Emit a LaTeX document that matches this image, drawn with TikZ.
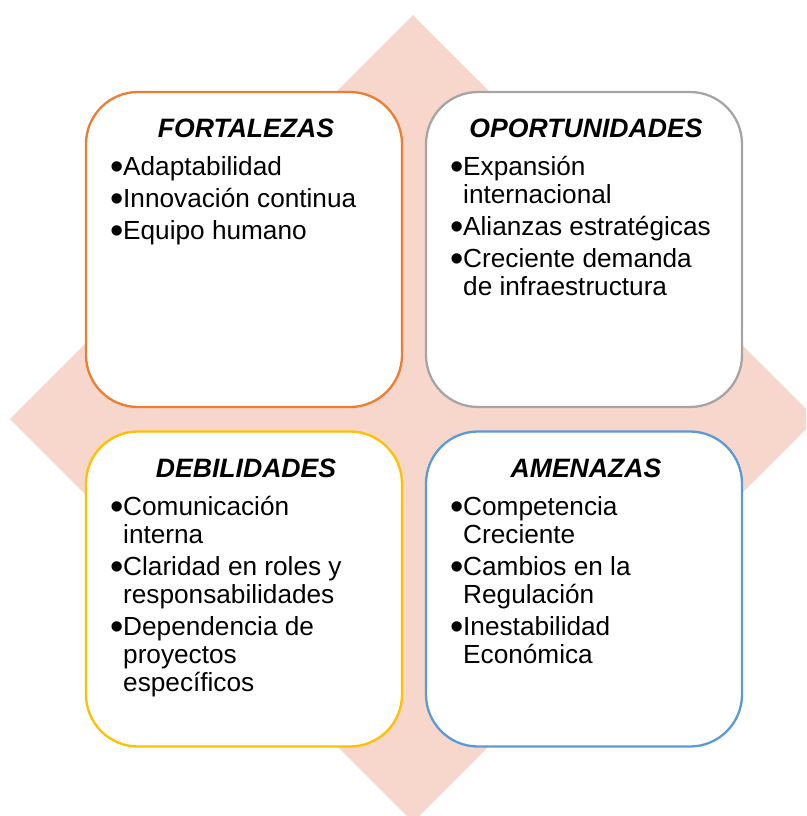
\documentclass[tikz,border=0pt]{standalone}
\usepackage{fontspec}
\setmainfont{Liberation Sans}
\definecolor{dfill}{HTML}{F7D7CC}
\definecolor{corange}{HTML}{ED7D31}
\definecolor{cgrey}{HTML}{A5A5A5}
\definecolor{cgold}{HTML}{FFC000}
\definecolor{cblue}{HTML}{5B9BD5}
\newcommand{\blt}{\raisebox{-4.5pt}[0pt][0pt]{\scalebox{1.45}{•}}}
\tikzset{
  swotbox/.style={draw=#1, line width=2.3pt, fill=white, rounded corners=52pt,
    minimum width=316pt, minimum height=315pt, inner sep=0pt, shape=rectangle},
  swottitle/.style={anchor=base, inner sep=0pt, font=\fontsize{26.6}{28}\selectfont\bfseries\itshape},
  swotlist/.style={anchor=base west, inner sep=0pt, font=\fontsize{26.2}{28}\selectfont}
}
\begin{document}
\begin{tikzpicture}[x=1pt,y=-1pt]
\useasboundingbox (0,0) rectangle (806,816);
\begin{scope}
\clip (0,0) rectangle (806,816);
\fill[dfill] (413,15) -- (816,419) -- (413,822) -- (10,419) -- cycle;
\end{scope}
\node[swotbox=corange] (F) at (244,249.5) {};
\node[swotbox=cgrey] (O) at (584,249.5) {};
\node[swotbox=cgold] (D) at (244,589) {};
\node[swotbox=cblue] (A) at (584,589) {};
\node[swottitle] (Ft) at (246,137) {FORTALEZAS};
\node[swottitle] (Ot) at (586,137) {OPORTUNIDADES};
\node[swottitle] (Dt) at (246,477) {DEBILIDADES};
\node[swottitle] (At) at (586,477) {AMENAZAS};
\node[swotlist] (Fl) at (110,175) {\begin{tabular}[t]{@{}p{13pt}@{}l@{}}
\blt & Adaptabilidad\\[4pt]
\blt & Innovación continua\\[4pt]
\blt & Equipo humano
\end{tabular}};
\node[swotlist] (Ol) at (450,175) {\begin{tabular}[t]{@{}p{13pt}@{}l@{}}
\blt & Expansión\\
     & internacional\\[4pt]
\blt & Alianzas estratégicas\\[4pt]
\blt & Creciente demanda\\
     & de infraestructura
\end{tabular}};
\node[swotlist] (Dl) at (110,515) {\begin{tabular}[t]{@{}p{13pt}@{}l@{}}
\blt & Comunicación\\
     & interna\\[4pt]
\blt & Claridad en roles y\\
     & responsabilidades\\[4pt]
\blt & Dependencia de\\
     & proyectos\\
     & específicos
\end{tabular}};
\node[swotlist] (Al) at (450,515) {\begin{tabular}[t]{@{}p{13pt}@{}l@{}}
\blt & Competencia\\
     & Creciente\\[4pt]
\blt & Cambios en la\\
     & Regulación\\[4pt]
\blt & Inestabilidad\\
     & Económica
\end{tabular}};
\end{tikzpicture}
\end{document}
